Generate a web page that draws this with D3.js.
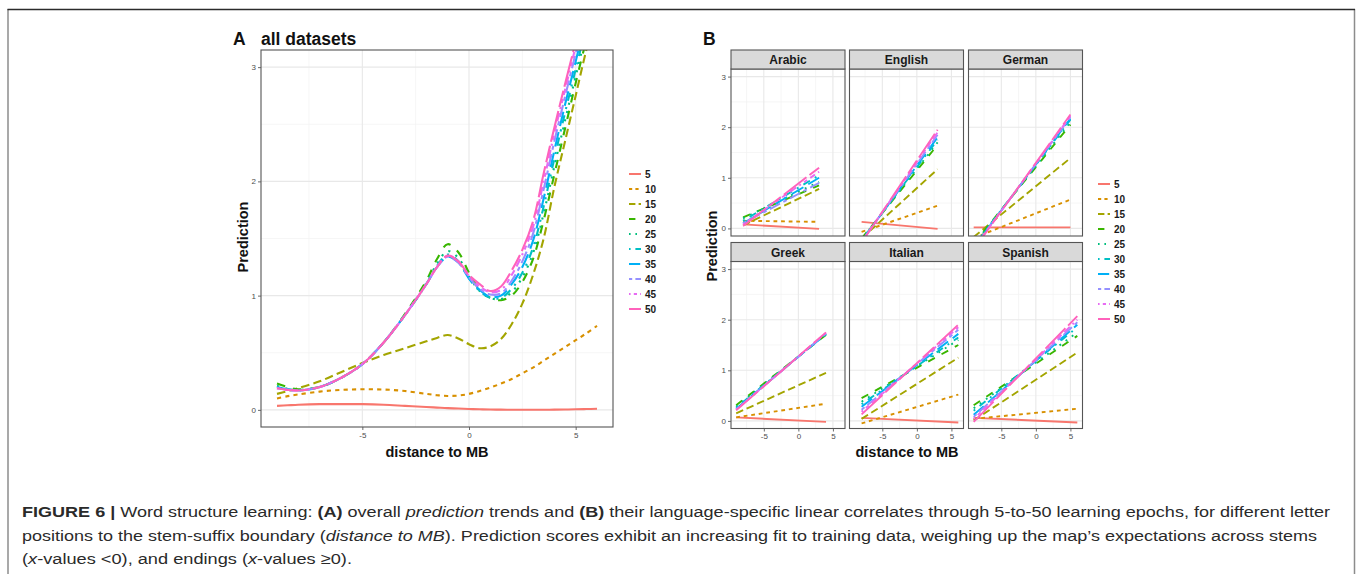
<!DOCTYPE html>
<html><head><meta charset="utf-8">
<script src="https://cdn.jsdelivr.net/npm/d3@7"></script>
<style>body{margin:0;background:#fff}svg{display:block}</style>
</head><body>
<svg id="c" width="1357" height="574"></svg>
<script>
// ---------- DATA ----------
const epochs = ["5","10","15","20","25","30","35","40","45","50"];
const epochColors = ["#F8766D","#D89000","#A3A500","#39B600","#00BF7D","#00BFC4","#00B0F6","#9590FF","#E76BF3","#FF62BC"];
const epochDashes = ["", "2 2", "4 2", "4 4", "1 3", "1 3 4 3", "7 3", "2 2 6 2", "1 2 2 2 3 2 4 2", "15 2 8 2"];

// Panel A: smoothed trends, all datasets
const distA = [-9,-8.5,-8,-7,-6,-5,-4,-3,-2,-1.5,-1,-0.5,0,0.5,1,1.5,2,2.5,3,3.5,4,4.5,5,5.5,6];
const predA5  = [0.035,0.04,0.045,0.05,0.05,0.05,0.045,0.035,0.025,0.02,0.015,0.012,0.008,0.005,0.003,0.002,0.001,0.001,0.001,0.001,0.002,0.003,0.005,0.007,0.01];
const predA10 = [0.10,0.12,0.135,0.16,0.175,0.18,0.178,0.165,0.14,0.128,0.122,0.125,0.14,0.165,0.195,0.23,0.27,0.32,0.37,0.43,0.49,0.55,0.61,0.67,0.735];
const predA15 = [0.14,0.165,0.19,0.25,0.33,0.41,0.48,0.54,0.6,0.63,0.655,0.625,0.575,0.54,0.555,0.62,0.75,0.93,1.18,1.5,1.95,2.35,2.75,3.15,3.5];
const predA20 = [0.23,0.2,0.18,0.2,0.28,0.4,0.59,0.84,1.13,1.32,1.45,1.38,1.2,1.05,0.98,0.96,1.0,1.12,1.32,1.66,2.06,2.46,2.86,3.24,3.6];
const predA25 = [0.21,0.185,0.175,0.2,0.28,0.4,0.59,0.83,1.11,1.28,1.39,1.33,1.17,1.04,0.98,0.97,1.03,1.16,1.37,1.72,2.13,2.53,2.92,3.3,3.67];
const predA30 = [0.2,0.18,0.17,0.2,0.28,0.4,0.59,0.83,1.1,1.26,1.36,1.3,1.15,1.04,0.98,0.98,1.06,1.2,1.42,1.78,2.2,2.6,2.98,3.36,3.73];
const predA35 = [0.2,0.18,0.17,0.2,0.28,0.4,0.59,0.83,1.1,1.25,1.34,1.29,1.15,1.05,0.99,1.0,1.1,1.25,1.48,1.85,2.27,2.67,3.05,3.43,3.8];
const predA40 = [0.19,0.175,0.17,0.2,0.28,0.4,0.59,0.83,1.1,1.25,1.34,1.29,1.16,1.06,1.01,1.02,1.13,1.3,1.54,1.93,2.35,2.74,3.12,3.5,3.87];
const predA45 = [0.19,0.175,0.17,0.2,0.28,0.4,0.59,0.83,1.1,1.25,1.35,1.3,1.17,1.08,1.03,1.05,1.18,1.36,1.6,2.0,2.42,2.8,3.18,3.55,3.92];
const predA50 = [0.19,0.175,0.17,0.2,0.28,0.4,0.59,0.83,1.1,1.25,1.35,1.3,1.18,1.1,1.04,1.08,1.22,1.4,1.65,2.07,2.47,2.85,3.22,3.6,3.97];
const predA = [predA5,predA10,predA15,predA20,predA25,predA30,predA35,predA40,predA45,predA50];

// Panel B: language-specific linear fits (value at first and last distance)
const languages = ["Arabic","English","German","Greek","Italian","Spanish"];
const fitFromX = [-8,-8,-9,-9,-8,-9];
const fitToX   = [3,3,5,4,6,6];
const arabicFrom  = [0.08,0.15,0.06,0.22,0.2,0.15,0.1,0.1,0.08,0.05];
const arabicTo    = [-0.01,0.13,0.78,0.85,0.92,1.05,1.0,0.9,1.12,1.2];
const englishFrom = [0.13,-0.07,-0.2,-0.2,-0.22,-0.23,-0.25,-0.26,-0.27,-0.28];
const englishTo   = [-0.01,0.45,1.17,1.65,1.7,1.75,1.8,1.85,1.9,1.95];
const germanFrom  = [0.02,-0.19,-0.17,-0.3,-0.33,-0.35,-0.37,-0.39,-0.4,-0.42];
const germanTo    = [0.02,0.57,1.39,2.05,2.1,2.15,2.17,2.2,2.22,2.25];
const greekFrom   = [0.07,0.07,0.15,0.31,0.28,0.26,0.24,0.23,0.22,0.21];
const greekTo     = [-0.02,0.34,0.95,1.7,1.71,1.72,1.72,1.73,1.74,1.75];
const italianFrom = [0.06,-0.05,0.04,0.45,0.38,0.33,0.28,0.22,0.18,0.13];
const italianTo   = [-0.03,0.52,1.25,1.5,1.6,1.65,1.72,1.8,1.85,1.9];
const spanishFrom = [0.06,0.04,0.01,0.31,0.25,0.2,0.12,0.08,0.04,-0.02];
const spanishTo   = [-0.03,0.24,1.35,1.68,1.75,1.85,1.9,1.95,2.0,2.07];
const fitFromY = [arabicFrom,englishFrom,germanFrom,greekFrom,italianFrom,spanishFrom];
const fitToY   = [arabicTo,englishTo,germanTo,greekTo,italianTo,spanishTo];

const xTicks = [-5,0,5];
const yTicks = [0,1,2,3];
const xMinor = [-7.5,-2.5,2.5];
const yMinor = [0.5,1.5,2.5];

// ---------- DRAW ----------
const FONT = "'Liberation Sans', Arial, Helvetica, sans-serif";
const svg = d3.select("#c").style("font-family", FONT);

// outer frame
svg.append("line").attr("x1",8).attr("x2",8).attr("y1",9).attr("y2",574).attr("stroke","#8c8c8c").attr("stroke-width",1.5);
svg.append("line").attr("x1",1354.5).attr("x2",1354.5).attr("y1",9).attr("y2",574).attr("stroke","#8c8c8c").attr("stroke-width",1.5);
svg.append("line").attr("x1",7.5).attr("x2",1355).attr("y1",9.5).attr("y2",9.5).attr("stroke","#2b2b2b").attr("stroke-width",1.6);

const defs = svg.append("defs");
let clipId = 0;

function dashFor(i, unit) {
  const d = epochDashes[i];
  if (!d) return null;
  return d.split(" ").map(v => (+v) * unit).join(" ");
}

function drawPanel(box, x, y, opts) {
  const g = svg.append("g");
  g.append("rect").attr("x",box.l).attr("y",box.t).attr("width",box.r-box.l).attr("height",box.b-box.t).attr("fill","#fff");
  const grid = g.append("g");
  xMinor.forEach(v => grid.append("line").attr("x1",x(v)).attr("x2",x(v)).attr("y1",box.t).attr("y2",box.b).attr("stroke","#f2f2f2").attr("stroke-width",0.7));
  yMinor.forEach(v => grid.append("line").attr("y1",y(v)).attr("y2",y(v)).attr("x1",box.l).attr("x2",box.r).attr("stroke","#f2f2f2").attr("stroke-width",0.7));
  xTicks.forEach(v => grid.append("line").attr("x1",x(v)).attr("x2",x(v)).attr("y1",box.t).attr("y2",box.b).attr("stroke","#e8e8e8").attr("stroke-width",1.1));
  yTicks.forEach(v => grid.append("line").attr("y1",y(v)).attr("y2",y(v)).attr("x1",box.l).attr("x2",box.r).attr("stroke","#e8e8e8").attr("stroke-width",1.1));
  const id = "clip" + (clipId++);
  defs.append("clipPath").attr("id",id).append("rect").attr("x",box.l).attr("y",box.t).attr("width",box.r-box.l).attr("height",box.b-box.t);
  const lines = g.append("g").attr("clip-path","url(#"+id+")");
  if (opts.showY) {
    const ax = g.append("g").attr("transform","translate("+box.l+",0)").call(d3.axisLeft(y).tickValues(yTicks).tickSize(3).tickPadding(2).tickFormat(d3.format("d")));
    styleAxis(ax);
  }
  if (opts.showX) {
    const ax = g.append("g").attr("transform","translate(0,"+box.b+")").call(d3.axisBottom(x).tickValues(xTicks).tickSize(3).tickPadding(2).tickFormat(d3.format("d")));
    styleAxis(ax);
  }
  return {g, lines, border: () => g.append("rect").attr("x",box.l).attr("y",box.t).attr("width",box.r-box.l).attr("height",box.b-box.t).attr("fill","none").attr("stroke","#555").attr("stroke-width",1.1)};
}
function styleAxis(ax) {
  ax.select(".domain").remove();
  ax.selectAll(".tick line").attr("stroke","#444").attr("stroke-width",0.8);
  ax.selectAll(".tick text").attr("fill","#4d4d4d").style("font-size","8px").style("font-family",FONT).text(function(){return this.textContent.replace("\u2212","-");});
}

// ---- Panel A ----
const boxA = {l:261, r:613, t:50, b:427};
const xA = d3.scaleLinear().domain([-9.75,6.75]).range([boxA.l,boxA.r]);
const yA = d3.scaleLinear().domain([-0.15,3.15]).range([boxA.b,boxA.t]);
const pA = drawPanel(boxA, xA, yA, {showX:true, showY:true});
const lineA = d3.line().x(d=>xA(d[0])).y(d=>yA(d[1])).curve(d3.curveCatmullRom.alpha(0.5));
predA.forEach((vals, i) => {
  const pts = distA.map((d,k) => [d, vals[k]]);
  pA.lines.append("path").attr("d", lineA(pts)).attr("fill","none")
    .attr("stroke", epochColors[i]).attr("stroke-width", 2.1)
    .attr("stroke-dasharray", dashFor(i, 2.1));
});
pA.border();

svg.append("text").attr("x",233).attr("y",45).style("font-size","17.5px").style("font-weight","bold").attr("fill","#111").text("A");
svg.append("text").attr("x",261).attr("y",45).style("font-size","17.5px").style("font-weight","bold").attr("fill","#111").text("all datasets");
svg.append("text").attr("transform","translate(248,237) rotate(-90)").attr("text-anchor","middle").style("font-size","14.5px").style("font-weight","bold").attr("fill","#111").text("Prediction");
svg.append("text").attr("x",437).attr("y",457).attr("text-anchor","middle").style("font-size","14.5px").style("font-weight","bold").attr("fill","#111").text("distance to MB");

function drawLegend(x0, y0) {
  const lg = svg.append("g");
  epochs.forEach((e,i) => {
    const yy = y0 + i*15;
    lg.append("line").attr("x1",x0).attr("x2",x0+12).attr("y1",yy).attr("y2",yy)
      .attr("stroke",epochColors[i]).attr("stroke-width",2).attr("stroke-dasharray", dashFor(i, 1.6));
    lg.append("text").attr("x",x0+16).attr("y",yy+3.6).style("font-size","10px").style("font-weight","bold").attr("fill","#1a1a1a").text(e);
  });
}
drawLegend(629, 174);

// ---- Panel B ----
const colL = [731, 849.5, 968.5];
const panelW = 114;
const rowStripT = [50, 242.5];
const stripH = 19;
const panelH = 167;
svg.append("text").attr("x",703).attr("y",45).style("font-size","17.5px").style("font-weight","bold").attr("fill","#111").text("B");

languages.forEach((lang, li) => {
  const c = li % 3, r = Math.floor(li / 3);
  const box = {l:colL[c], r:colL[c]+panelW, t:rowStripT[r]+stripH, b:rowStripT[r]+stripH+panelH};
  const x = d3.scaleLinear().domain([-9.75,6.75]).range([box.l,box.r]);
  const y = d3.scaleLinear().domain([-0.15,3.15]).range([box.b,box.t]);
  const p = drawPanel(box, x, y, {showX: r===1, showY: c===0});
  const ln = d3.line().x(d=>x(d[0])).y(d=>y(d[1]));
  epochs.forEach((e,i) => {
    const pts = [[fitFromX[li], fitFromY[li][i]], [fitToX[li], fitToY[li][i]]];
    p.lines.append("path").attr("d", ln(pts)).attr("fill","none")
      .attr("stroke", epochColors[i]).attr("stroke-width", 1.9)
      .attr("stroke-dasharray", dashFor(i, 1.9));
  });
  p.border();
  // strip
  svg.append("rect").attr("x",box.l).attr("y",rowStripT[r]).attr("width",panelW).attr("height",stripH)
    .attr("fill","#d9d9d9").attr("stroke","#555").attr("stroke-width",1.1);
  svg.append("text").attr("x",box.l+panelW/2).attr("y",rowStripT[r]+14.3).attr("text-anchor","middle")
    .style("font-size","12px").style("font-weight","bold").attr("fill","#1a1a1a").text(lang);
});
svg.append("text").attr("transform","translate(717,246) rotate(-90)").attr("text-anchor","middle").style("font-size","14.5px").style("font-weight","bold").attr("fill","#111").text("Prediction");
svg.append("text").attr("x",907).attr("y",457).attr("text-anchor","middle").style("font-size","14.5px").style("font-weight","bold").attr("fill","#111").text("distance to MB");
drawLegend(1098, 184);

// ---- Caption ----
const capLines = [
  {len:1308, parts:[["FIGURE 6 | ","b"],["Word structure learning: ",""],["(A)","b"],[" overall ",""],["prediction","i"],[" trends and ",""],["(B)","b"],[" their language-specific linear correlates through 5-to-50 learning epochs, for different letter",""]]},
  {len:1295, parts:[["positions to the stem-suffix boundary (",""],["distance to MB","i"],["). Prediction scores exhibit an increasing fit to training data, weighing up the map\u2019s expectations across stems",""]]},
  {len:330, parts:[["(",""],["x","i"],["-values <0), and endings (",""],["x","i"],["-values \u22650).",""]]}
];
capLines.forEach((cl, k) => {
  const t = svg.append("text").attr("x",22).attr("y",517 + k*23.5).style("font-size","15.5px").attr("fill","#2a2a2a")
    .attr("textLength", cl.len).attr("lengthAdjust","spacingAndGlyphs");
  cl.parts.forEach(([s, st]) => {
    const ts = t.append("tspan").text(s);
    if (st === "b") ts.style("font-weight","bold");
    if (st === "i") ts.style("font-style","italic");
  });
});
</script>
</body></html>
